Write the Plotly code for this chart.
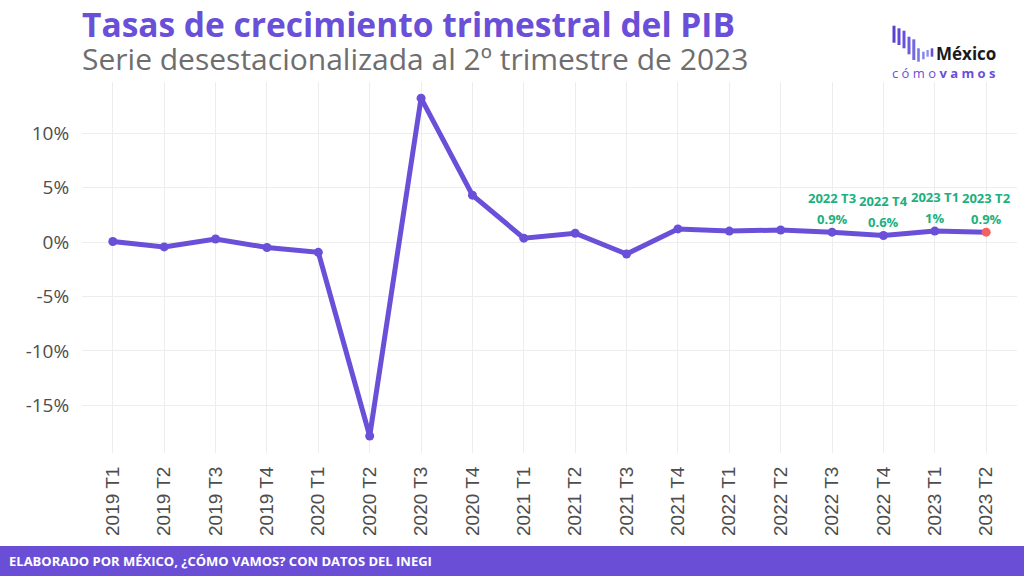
import plotly.graph_objects as go

# ---- data ----
quarters = ["2019 T1", "2019 T2", "2019 T3", "2019 T4",
            "2020 T1", "2020 T2", "2020 T3", "2020 T4",
            "2021 T1", "2021 T2", "2021 T3", "2021 T4",
            "2022 T1", "2022 T2", "2022 T3", "2022 T4",
            "2023 T1", "2023 T2"]
growth = [0.05, -0.45, 0.27, -0.5,
          -0.95, -17.8, 13.2, 4.3,
          0.35, 0.8, -1.1, 1.2,
          1.0, 1.1, 0.9, 0.6,
          1.0, 0.9]
label_quarters = ["2022 T3", "2022 T4", "2023 T1", "2023 T2"]
label_values = ["0.9%", "0.6%", "1%", "0.9%"]
y_ticks = [-15, -10, -5, 0, 5, 10]
y_ticktext = ["-15%", "-10%", "-5%", "0%", "5%", "10%"]
title_text = "Tasas de crecimiento trimestral del PIB"
subtitle_text = "Serie desestacionalizada al 2º trimestre de 2023"
footer_text = "ELABORADO POR MÉXICO, ¿CÓMO VAMOS? CON DATOS DEL INEGI"

PURPLE = "#6A4FD8"
GREEN = "#1BB07D"
RED = "#F4605E"

W, H = 1024, 576
L, R, T, B = 82, 7, 82, 123
PW, PH = W - L - R, H - T - B


def px(xp):
    return (xp - L) / PW


def py(yp):
    return (H - B - yp) / PH


fig = go.Figure()
fig.add_trace(go.Scatter(
    x=quarters, y=growth, mode="lines+markers",
    line=dict(color=PURPLE, width=5),
    marker=dict(color=[PURPLE] * (len(quarters) - 1) + [RED], size=9),
    hoverinfo="skip", showlegend=False,
))

annotations = []
for q, v in zip(label_quarters, label_values):
    yv = growth[quarters.index(q)]
    annotations.append(dict(x=q, y=yv, xref="x", yref="y", text="<b>" + v + "</b>",
                            showarrow=False, yshift=13, yanchor="middle",
                            font=dict(family="Open Sans", size=13, color=GREEN)))
    annotations.append(dict(x=q, y=yv, xref="x", yref="y", text="<b>" + q + "</b>",
                            showarrow=False, yshift=34, yanchor="middle",
                            font=dict(family="Open Sans", size=13, color=GREEN)))

# title + subtitle in one block
annotations.append(dict(
    x=px(80), y=py(40), xref="paper", yref="paper", xanchor="left", yanchor="middle", align="left",
    text=("<span style='font-size:33.5px;color:" + PURPLE + "'><b>" + title_text + "</b></span><br>"
          "<span style='font-size:30px'>" + subtitle_text + "</span>"),
    showarrow=False, font=dict(family="Open Sans", size=25.5, color="#6E6E6E")))
# footer
annotations.append(dict(x=px(7), y=py(561), xref="paper", yref="paper", xanchor="left", yanchor="middle",
                        text="<b>" + footer_text + "</b>", showarrow=False,
                        font=dict(family="Open Sans", size=13, color="white")))
# logo text
annotations.append(dict(x=px(934), y=py(53), xref="paper", yref="paper", xanchor="left", yanchor="middle",
                        text="<b>México</b>", showarrow=False,
                        font=dict(family="Open Sans", size=17, color="#1a1a1a")))
annotations.append(dict(x=px(890), y=py(73), xref="paper", yref="paper", xanchor="left", yanchor="middle",
                        text="c ó m o <b>v a m o s</b>", showarrow=False,
                        font=dict(family="Open Sans", size=13, color="#6A4FD8")))

shapes = [dict(type="rect", xref="paper", yref="paper", x0=px(0), x1=px(W), y0=py(576), y1=py(546),
               fillcolor="#6A4FD6", line=dict(width=0), layer="above")]
# logo bars: (x0, x1, ytop, ybottom, color)
bars = [(892.5, 895.5, 25.7, 42.7, "#5B3FD0"), (897.5, 900.5, 28.3, 45, "#6048D4"),
        (902.5, 905.5, 30.7, 48.3, "#6652D8"), (907.5, 910.5, 36.7, 54.3, "#6C5CDC"),
        (912.3, 915.3, 39.3, 60, "#7268E0"), (917.2, 919.8, 48.3, 61.7, "#7A76E4"),
        (922.2, 924.6, 51.7, 59.3, "#8284E8"), (926.4, 928.8, 50, 56.7, "#8A92EC"),
        (930.7, 933.3, 48.3, 56.7, "#6A4FD8")]
for x0, x1, y0, y1, c in bars:
    shapes.append(dict(type="rect", xref="paper", yref="paper", x0=px(x0), x1=px(x1), y0=py(y1), y1=py(y0),
                       fillcolor=c, line=dict(width=0)))

fig.update_layout(
    width=W, height=H,
    margin=dict(l=L, r=R, t=T, b=B),
    paper_bgcolor="white", plot_bgcolor="white",
    annotations=annotations, shapes=shapes,
    xaxis=dict(type="category", range=[-0.6, len(quarters) - 0.4], tickangle=-90,
               showgrid=True, gridcolor="#EDEDED", gridwidth=1, zeroline=False,
               tickfont=dict(family="Liberation Sans", size=19, color="#4D4D4D"),
               ticks="outside", ticklen=5, tickcolor="rgba(0,0,0,0)"),
    yaxis=dict(range=[-19.36, 14.68], tickvals=y_ticks, ticktext=y_ticktext,
               showgrid=True, gridcolor="#EDEDED", gridwidth=1, zeroline=False,
               tickfont=dict(family="Open Sans", size=19, color="#4D4D4D"),
               ticks="outside", ticklen=8, tickcolor="rgba(0,0,0,0)"),
)

fig.write_html("out.html")
